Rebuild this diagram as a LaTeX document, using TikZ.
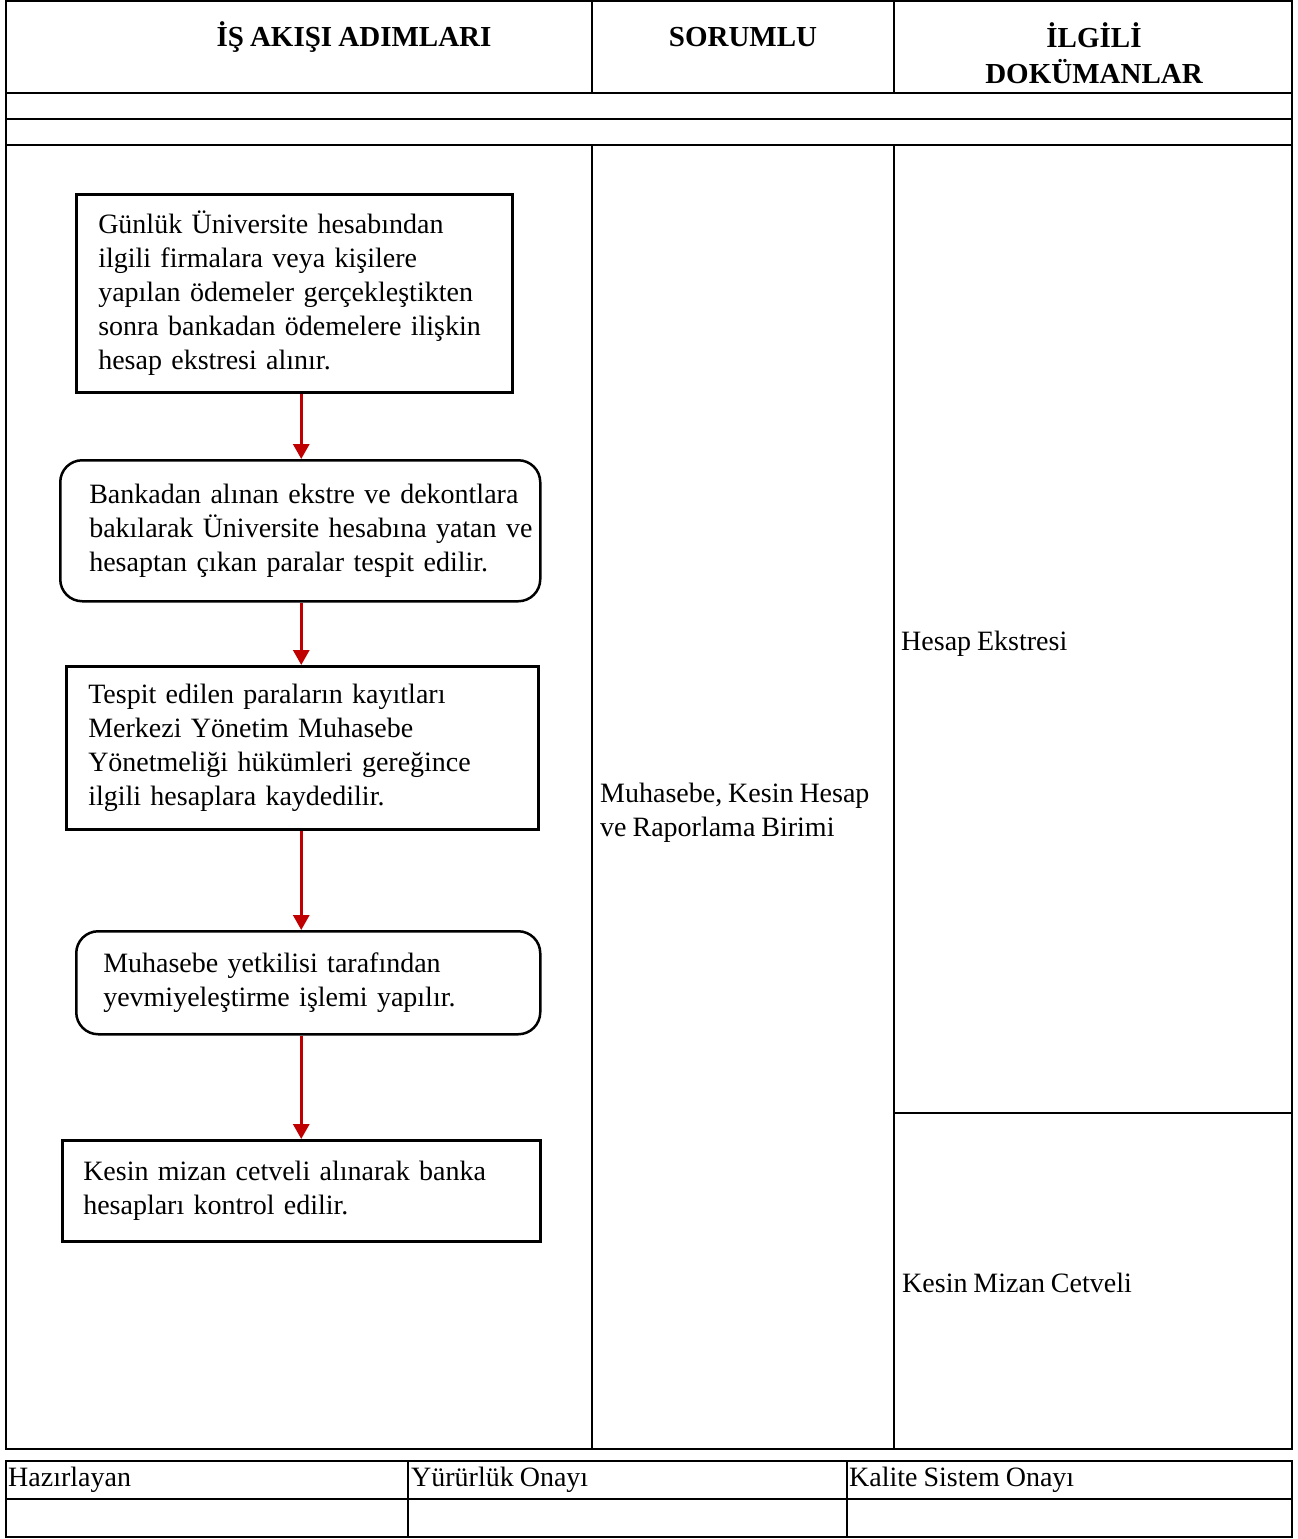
\documentclass[tikz,border=0pt]{standalone}
\usepackage{fontspec}
\setmainfont[WordSpace=0.85]{Liberation Serif}
\usetikzlibrary{arrows.meta}
\definecolor{okkirmizi}{RGB}{192,0,0}
\tikzset{
	cizgi/.style={line width=2pt},
	adim/.style={draw, line width=2.5pt, anchor=north west, align=left, inner ysep=0pt, font=\fontsize{28}{34}\selectfont},
	yuvarlak/.style={adim, rounded corners=22pt},
	ok/.style={draw=okkirmizi, line width=3pt, -{Triangle[width=16pt,length=15pt]}},
	baslik/.style={font=\fontsize{29}{36}\selectfont\bfseries, align=center},
	yazi/.style={font=\fontsize{28}{34}\selectfont, anchor=west, align=left, inner sep=0pt}
}
\begin{document}
\begin{tikzpicture}[x=1pt,y=-1pt]
		\useasboundingbox (0,0) rectangle (1298,1539);
		
		% tablo
		\draw[cizgi] (6,1) rectangle (1292,1449);
		\draw[cizgi] (6,93) -- (1292,93);
		\draw[cizgi] (6,119) -- (1292,119);
		\draw[cizgi] (6,145) -- (1292,145);
		\draw[cizgi] (592,1) -- (592,93);
		\draw[cizgi] (894,1) -- (894,93);
		\draw[cizgi] (592,145) -- (592,1449);
		\draw[cizgi] (894,145) -- (894,1449);
		\draw[cizgi] (894,1113) -- (1292,1113);
		
		\node[baslik] at (354,37) (h1) {İŞ AKIŞI ADIMLARI};
		\node[baslik] at (743,37) (h2) {SORUMLU};
		\node[baslik] at (1094,53) (h3) {İLGİLİ\\DOKÜMANLAR};
		
		% adimlar
		\node[adim, text width=392pt, inner xsep=22pt, minimum height=198pt] at (75,193) (a) {Günlük Üniversite hesabından\\ilgili firmalara veya kişilere\\yapılan ödemeler gerçekleştikten\\sonra bankadan ödemelere ilişkin\\hesap ekstresi alınır.};
		\node[yuvarlak, text width=422pt, inner xsep=29pt, minimum height=141pt] at (59,459) (b) {\mbox{Bankadan alınan ekstre ve dekontlara}\\\mbox{bakılarak Üniversite hesabına yatan ve}\\\mbox{hesaptan çıkan paralar tespit edilir.}};
		\node[adim, text width=428pt, inner xsep=22pt, minimum height=163pt] at (65,665) (c) {Tespit edilen paraların kayıtları\\Merkezi Yönetim Muhasebe\\Yönetmeliği hükümleri gereğince\\ilgili hesaplara kaydedilir.};
		\node[yuvarlak, text width=410pt, inner xsep=27pt, minimum height=103pt] at (75,930) (d) {Muhasebe yetkilisi tarafından\\yevmiyeleştirme işlemi yapılır.};
		\node[adim, text width=436pt, inner xsep=21pt, minimum height=101pt] at (61,1139) (e) {Kesin mizan cetveli alınarak banka\\hesapları kontrol edilir.};
		
		\draw[ok] (a.south -| e.north) -- (b.north -| e.north);
		\draw[ok] (b.south -| e.north) -- (c.north -| e.north);
		\draw[ok] (c.south -| e.north) -- (d.north -| e.north);
		\draw[ok] (d.south -| e.north) -- (e.north);
		
		\node[yazi] at (600,813) (s) {Muhasebe, Kesin Hesap\\ve Raporlama Birimi};
		\node[yazi] at (901,644) (k1) {Hesap Ekstresi};
		\node[yazi] at (902,1283) (k2) {Kesin Mizan Cetveli};
		
		% alt tablo
		\draw[cizgi] (6,1461) rectangle (1292,1537);
		\draw[cizgi] (6,1499) -- (1292,1499);
		\draw[cizgi] (408,1461) -- (408,1537);
		\draw[cizgi] (847,1461) -- (847,1537);
		
		\node[yazi] at (8,1480) (f1) {Hazırlayan};
		\node[yazi] at (411,1480) (f2) {Yürürlük Onayı};
		\node[yazi] at (849,1480) (f3) {Kalite Sistem Onayı};
	\end{tikzpicture}
\end{document}
